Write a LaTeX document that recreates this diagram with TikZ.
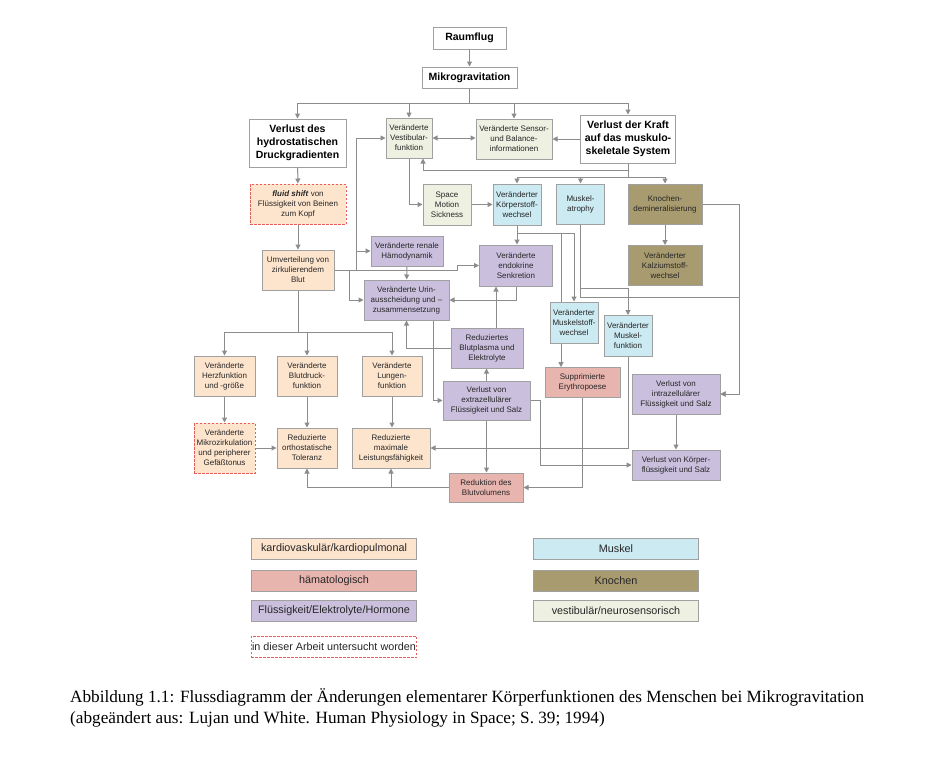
\documentclass[tikz,border=0pt]{standalone}
\usepackage{fontspec}
\setmainfont{Liberation Sans}
\newfontfamily\captionfont{Liberation Serif}
\usetikzlibrary{arrows.meta}

\definecolor{rahmen}{RGB}{160,160,160}
\definecolor{liniengrau}{RGB}{140,140,140}
\definecolor{studienrot}{RGB}{232,92,92}
\definecolor{kardiofarbe}{RGB}{253,228,205}
\definecolor{haemafarbe}{RGB}{232,180,174}
\definecolor{fluessigfarbe}{RGB}{202,192,222}
\definecolor{muskelfarbe}{RGB}{204,234,242}
\definecolor{knochenfarbe}{RGB}{168,155,111}
\definecolor{vestibfarbe}{RGB}{238,240,226}

\begin{document}
\begin{tikzpicture}[x=1pt, y=-1pt,
        box/.style={draw=rahmen, line width=1pt, inner sep=1pt, align=center, text=black!85, font=\fontsize{8}{10}\selectfont},
        titel/.style={box, fill=white, text=black, font=\bfseries\fontsize{10.5}{13}\selectfont},
        kardio/.style={box, fill=kardiofarbe},
        haema/.style={box, fill=haemafarbe},
        fluessig/.style={box, fill=fluessigfarbe},
        muskel/.style={box, fill=muskelfarbe},
        knochen/.style={box, fill=knochenfarbe},
        vestib/.style={box, fill=vestibfarbe},
        studie/.style={draw=studienrot, dash pattern=on 2.5pt off 1.5pt},
        legende/.style={box, minimum width=165, minimum height=21, font=\fontsize{10.8}{12}\selectfont},
        strich/.style={draw=liniengrau, line width=1pt},
        pfeil/.style={strich, -{Triangle[length=5pt, width=5pt]}},
        doppel/.style={strich, {Triangle[length=5pt, width=5pt]}-{Triangle[length=5pt, width=5pt]}}]

        % Rahmen des Bildes
        \fill[white] (0,0) rectangle (945,758);
        \useasboundingbox (0,0) rectangle (945,758);

        % Kopf
        \node[titel, minimum width=73, minimum height=22] (raum) at (469.5,38) {Raumflug};
        \node[titel, minimum width=95, minimum height=21] (mikro) at (469.5,77.5) {Mikrogravitation};

        % zweite Ebene
        \node[titel, minimum width=97, minimum height=48] (hydro) at (297.5,143) {Verlust des\\hydrostatischen\\Druckgradienten};
        \node[vestib, minimum width=46, minimum height=40] (vesti) at (409,138) {Veränderte\\Vestibular-\\funktion};
        \node[vestib, minimum width=76, minimum height=40] (sensor) at (514,139) {Veränderte Sensor-\\und Balance-\\informationen};
        \node[titel, minimum width=95, minimum height=48] (kraft) at (628,139) {Verlust der Kraft\\auf das muskulo-\\skeletale System};

        % linke Seite - kardiovaskulaer
        \node[kardio, studie, minimum width=96, minimum height=40] (fluid) at (298,204) {\textbf{\textit{fluid shift}} von\\Flüssigkeit von Beinen\\zum Kopf};
        \node[kardio, minimum width=72, minimum height=40] (umv) at (298,270) {Umverteilung von\\zirkulierendem\\Blut};
        \node[kardio, minimum width=61, minimum height=40] (herzf) at (224.5,376) {Veränderte\\Herzfunktion\\und -größe};
        \node[kardio, minimum width=60, minimum height=40] (blutdr) at (307,376) {Veränderte\\Blutdruck-\\funktion};
        \node[kardio, minimum width=60, minimum height=40] (lunge) at (392,376) {Veränderte\\Lungen-\\funktion};
        \node[kardio, studie, minimum width=61, minimum height=50] (mikroz) at (224.5,448) {Veränderte\\Mikrozirkulation\\und peripherer\\Gefäßtonus};
        \node[kardio, minimum width=60, minimum height=40] (ortho) at (307,448) {Reduzierte\\orthostatische\\Toleranz};
        \node[kardio, minimum width=78, minimum height=40] (leist) at (391,448) {Reduzierte\\maximale\\Leistungsfähigkeit};

        % Mitte - Fluessigkeit/Elektrolyte/Hormone
        \node[fluessig, minimum width=72, minimum height=30] (renal) at (407,251) {Veränderte renale\\Hämodynamik};
        \node[fluessig, minimum width=73, minimum height=41] (endo) at (516,265.5) {Veränderte\\endokrine\\Senkretion};
        \node[fluessig, minimum width=85, minimum height=40] (urin) at (406.5,300) {Veränderte Urin-\\ausscheidung und –\\zusammensetzung};
        \node[fluessig, minimum width=72, minimum height=40] (plasma) at (487,348) {Reduziertes\\Blutplasma und\\Elektrolyte};
        \node[fluessig, minimum width=87, minimum height=39] (extra) at (486.5,400.5) {Verlust von\\extrazellulärer\\Flüssigkeit und Salz};
        \node[fluessig, minimum width=88, minimum height=40] (intra) at (676,394) {Verlust von\\intrazellulärer\\Flüssigkeit und Salz};
        \node[fluessig, minimum width=88, minimum height=30] (koerperfl) at (676,465) {Verlust von Körper-\\flüssigkeit und Salz};

        % rechte Seite - vestibulaer, Muskel, Knochen
        \node[vestib, minimum width=48, minimum height=41] (space) at (447,204.5) {Space\\Motion\\Sickness};
        \node[muskel, minimum width=48, minimum height=41] (koerper) at (517,204.5) {Veränderter\\Körperstoff-\\wechsel};
        \node[muskel, minimum width=48, minimum height=40] (atrophy) at (580.5,204) {Muskel-\\atrophy};
        \node[knochen, minimum width=74, minimum height=40] (knochen) at (665,204) {Knochen-\\demineralisierung};
        \node[knochen, minimum width=74, minimum height=40] (kalzium) at (665,265.5) {Veränderter\\Kalziumstoff-\\wechsel};
        \node[muskel, minimum width=48, minimum height=41] (muskstoff) at (574,322.5) {Veränderter\\Muskelstoff-\\wechsel};
        \node[muskel, minimum width=48, minimum height=41] (muskfkt) at (628,336) {Veränderter\\Muskel-\\funktion};

        % haematologisch
        \node[haema, minimum width=75, minimum height=30] (ery) at (582.5,382.7) {Supprimierte\\Erythropoese};
        \node[haema, minimum width=74, minimum height=29] (reduk) at (486,487.5) {Reduktion des\\Blutvolumens};

        % Verbindungen von oben
        \coordinate (vert) at (469.5,103);
        \draw[pfeil] (raum) -- (mikro);
        \foreach \ziel in {hydro, vesti, sensor, kraft}
            \draw[pfeil] (mikro.south) -- (vert) -| (\ziel.north);
        \draw[doppel] (vesti.east) -- (vesti.east -| sensor.west);
        \draw[pfeil] (kraft.west) -- (kraft.west -| sensor.east);
        \draw[pfeil] (kraft.south) -- ++(0,7) -| ([xshift=14pt]vesti.south);
        \foreach \ziel in {koerper, atrophy, knochen}
            \draw[pfeil] (kraft.south) -- ++(0,14) -| (\ziel.north);
        \draw[pfeil] (vesti.south) |- (space.west);
        \draw[pfeil] (space) -- (koerper);

        % Verbindungen links
        \draw[pfeil] (hydro) -- (fluid);
        \draw[pfeil] (fluid) -- (umv);
        \coordinate (u1) at (349,270);
        \coordinate (u2) at (356,270);
        \coordinate (u3) at (457,270);
        \coordinate (u4) at (298,332);
        \draw[pfeil] (umv.east) -- (u2) |- (vesti.west);
        \draw[pfeil] (umv.east) -- (u2) |- (renal.west);
        \draw[pfeil] (umv.east) -- (u3) |- (endo.west);
        \draw[pfeil] (umv.east) -- (u1) |- (urin.west);
        \foreach \ziel in {herzf, blutdr, lunge}
            \draw[pfeil] (umv.south) -- (u4) -| (\ziel.north);
        \draw[pfeil] (herzf) -- (mikroz);
        \draw[pfeil] (blutdr) -- (ortho);
        \draw[pfeil] (lunge.south) -- (lunge.south |- leist.north);
        \draw[pfeil] (mikroz) -- (ortho);
        \foreach \ziel in {ortho, leist}
            \draw[pfeil] (reduk.west) -| (\ziel.south);

        % Verbindungen Mitte
        \draw[pfeil] (renal) -- (urin);
        \draw[pfeil] (endo.south) |- (urin.east);
        \draw[pfeil] ([xshift=26.5pt]urin.south) |- (extra.west);
        \draw[pfeil] (extra.north) -- (extra.north |- plasma.south);
        \draw[pfeil] (plasma.west) -| (urin.south);
        \draw[pfeil] ([xshift=9pt]plasma.north) -- ([xshift=9pt]plasma.north |- endo.south);
        \draw[pfeil] (extra.south) -- (extra.south |- reduk.north);
        \coordinate (e1) at (540,400.5);
        \draw[pfeil] (extra.east) -- (e1) |- (koerperfl.west);

        % Verbindungen rechts
        \draw[pfeil] (koerper.south) -- (koerper.south |- endo.north);
        \draw[pfeil] (koerper.south) -- ++(0,8) -| (muskstoff.north);
        \draw[strich] (koerper.south) -- ++(0,8) -| ([xshift=-13pt]muskstoff.north);
        \draw[pfeil] ([xshift=-13pt]muskstoff.south) -- ([xshift=-13pt]muskstoff.south |- ery.north);
        \draw[pfeil] (atrophy.south) -- ++(0,64) -| (muskfkt.north);
        \coordinate (k1) at (739,204);
        \coordinate (k2) at (739,297);
        \draw[pfeil] (knochen) -- (kalzium);
        \draw[pfeil] (knochen.east) -- (k1) |- (intra.east);
        \draw[pfeil] (atrophy.south) |- (k2) |- (intra.east);
        \draw[pfeil] (muskfkt.south) |- (leist.east);
        \draw[pfeil] (ery.south) |- (reduk.east);
        \draw[pfeil] (intra) -- (koerperfl);

        % Legende
        \node[kardio, legende] (lkardio) at (334,548.5) {kardiovaskulär/kardiopulmonal};
        \node[haema, legende] (lhaema) at (334,580.5) {hämatologisch};
        \node[fluessig, legende] (lfluessig) at (334,611) {Flüssigkeit/Elektrolyte/Hormone};
        \node[legende, studie] (lstudie) at (334,647) {in dieser Arbeit untersucht worden};
        \node[muskel, legende] (lmuskel) at (616,548.5) {Muskel};
        \node[knochen, legende] (lknochen) at (616,580.5) {Knochen};
        \node[vestib, legende] (lvestib) at (616,611) {vestibulär/neurosensorisch};

        % Bildunterschrift
        \node[anchor=base west, inner sep=0, font=\captionfont\fontsize{17.2}{21}\selectfont] (cap1) at (70,702) {Abbildung 1.1: Flussdiagramm der Änderungen elementarer Körperfunktionen des Menschen bei Mikrogravitation};
        \node[anchor=base west, inner sep=0, font=\captionfont\fontsize{17.2}{21}\selectfont] (cap2) at (70,723) {(abgeändert aus: Lujan und White. Human Physiology in Space; S. 39; 1994)};
\end{tikzpicture}
\end{document}
